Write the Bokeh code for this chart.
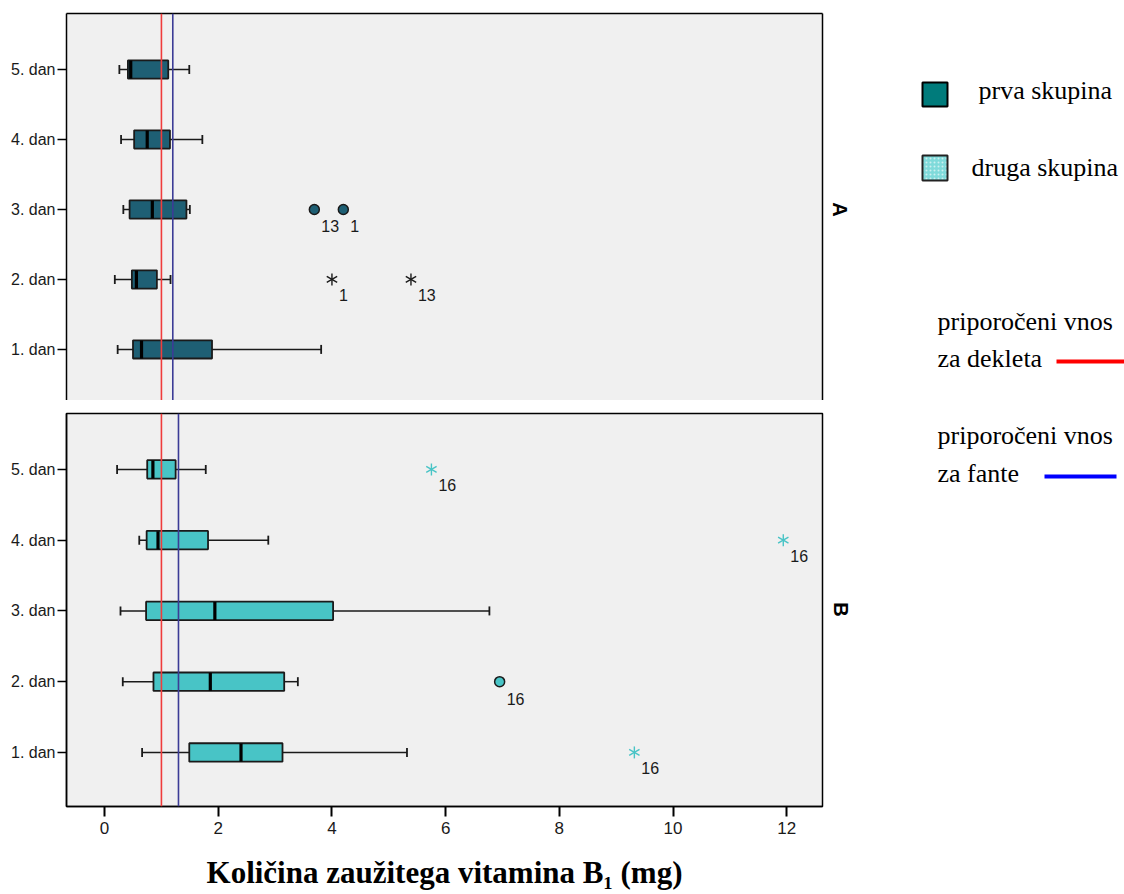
import math

from bokeh.core.properties import value
from bokeh.embed import file_html
from bokeh.layouts import column, row
from bokeh.models import ColumnDataSource, FixedTicker, LinearAxis, Range1d, Span
from bokeh.plotting import figure
from bokeh.resources import INLINE

# ---------------------------------------------------------------- data
days = ["1. dan", "2. dan", "3. dan", "4. dan", "5. dan"]
day_pos = [1, 2, 3, 4, 5]

# prva skupina (panel A): whisker ends, quartiles and medians per day
a_low = [0.23, 0.18, 0.33, 0.29, 0.26]
a_q1 = [0.50, 0.48, 0.44, 0.52, 0.41]
a_med = [0.65, 0.56, 0.84, 0.75, 0.46]
a_q3 = [1.89, 0.92, 1.44, 1.15, 1.12]
a_high = [3.81, 1.16, 1.50, 1.72, 1.49]
a_out_day = [3, 3]
a_out_val = [3.69, 4.20]
a_out_case = ["13", "1"]
a_ext_day = [2, 2]
a_ext_val = [4.00, 5.39]
a_ext_case = ["1", "13"]

# druga skupina (panel B)
b_low = [0.66, 0.32, 0.28, 0.61, 0.22]
b_q1 = [1.49, 0.86, 0.73, 0.74, 0.75]
b_med = [2.40, 1.86, 1.94, 0.94, 0.85]
b_q3 = [3.13, 3.16, 4.02, 1.82, 1.25]
b_high = [5.32, 3.40, 6.77, 2.88, 1.78]
b_out_day = [2]
b_out_val = [6.95]
b_out_case = ["16"]
b_ext_day = [1, 4, 5]
b_ext_val = [9.32, 11.94, 5.75]
b_ext_case = ["16", "16", "16"]

# recommended daily intake (mg)
rec_girls = 1.0
rec_boys_a = 1.2
rec_boys_b = 1.3

x_ticks = [0, 2, 4, 6, 8, 10, 12]

# ---------------------------------------------------------------- styles
SANS = "'Liberation Sans Narrow', 'Arial Narrow', 'Liberation Sans', sans-serif"
SERIF = "'Liberation Serif', 'Times New Roman', serif"
BG = "#f0f0f0"
COL_A = "#1e5f74"
COL_B = "#48c4c6"
RED = "#f03c3c"
NAVY = "#3c3c96"
X_RANGE = (-0.67, 12.63)


def bare_axis():
    return LinearAxis(
        ticker=FixedTicker(ticks=[]),
        major_label_text_font_size="0px",
        major_tick_out=0, major_tick_in=0,
        minor_tick_out=0, minor_tick_in=0,
        major_label_standoff=0,
        axis_line_color="black", axis_line_width=1.5,
    )


def style_y(p):
    ax = p.yaxis[0]
    ax.ticker = FixedTicker(ticks=day_pos)
    ax.major_label_overrides = dict(zip(day_pos, days))
    ax.major_label_text_font = SANS
    ax.major_label_text_font_size = "16px"
    ax.major_label_text_color = "#1a1a1a"
    ax.major_label_standoff = 2
    ax.major_tick_out = 9
    ax.major_tick_in = 0
    ax.major_tick_line_width = 1.5
    ax.minor_tick_out = 0
    ax.minor_tick_in = 0
    ax.axis_line_width = 1.5
    p.grid.visible = False


def asterisk(p, xs, ys, color):
    # six-armed asterisk built from three crossing strokes
    for ang in (math.pi / 2, math.pi / 6, -math.pi / 6):
        p.scatter(x=xs, y=ys, marker="dash", angle=ang, size=12,
                  line_color=color, line_width=1.4)


def draw_boxes(p, low, q1, med, q3, high, fill, out_day, out_val, out_case,
               ext_day, ext_val, ext_case, ext_color, rec_boys):
    src = ColumnDataSource(dict(y=day_pos, low=low, q1=q1, med=med, q3=q3, high=high))
    # whiskers and caps
    p.segment(x0="low", y0="y", x1="q1", y1="y", source=src, line_color="#1a1a1a", line_width=1.5)
    p.segment(x0="q3", y0="y", x1="high", y1="y", source=src, line_color="#1a1a1a", line_width=1.5)
    p.scatter(x="low", y="y", source=src, marker="dash", angle=math.pi / 2, size=9,
              line_color="#1a1a1a", line_width=1.8)
    p.scatter(x="high", y="y", source=src, marker="dash", angle=math.pi / 2, size=9,
              line_color="#1a1a1a", line_width=1.8)
    # boxes and medians
    p.hbar(y="y", left="q1", right="q3", height=0.26, source=src, fill_color=fill,
           line_color="#1a1a1a", line_width=1.8)
    p.scatter(x="med", y="y", source=src, marker="dash", angle=math.pi / 2, size=18,
              line_color="black", line_width=3.2)
    # reference intake lines
    p.add_layout(Span(location=rec_girls, dimension="height", line_color=RED, line_width=1.6))
    p.add_layout(Span(location=rec_boys, dimension="height", line_color=NAVY, line_width=1.6))
    # outliers (circles) and extremes (asterisks) with case numbers
    if out_val:
        p.scatter(x=out_val, y=out_day, marker="circle", size=10, fill_color=fill,
                  line_color="#1a1a1a", line_width=1.5)
        p.text(x=out_val, y=out_day, text=out_case, x_offset=7, y_offset=17,
               text_baseline="middle", text_font=value(SANS), text_font_size="16px",
               text_color="#1a1a1a")
    if ext_val:
        asterisk(p, ext_val, ext_day, ext_color)
        p.text(x=ext_val, y=ext_day, text=ext_case, x_offset=7, y_offset=16,
               text_baseline="middle", text_font=value(SANS), text_font_size="16px",
               text_color="#1a1a1a")


# ---------------------------------------------------------------- panel A
p_a = figure(width=828, height=400, output_backend="svg", toolbar_location=None,
             x_range=Range1d(*X_RANGE), y_range=Range1d(0.27, 5.8),
             min_border_left=66, min_border_right=6, min_border_top=13, min_border_bottom=0,
             x_axis_location=None, background_fill_color=BG, border_fill_color="white",
             outline_line_color=None)
style_y(p_a)
p_a.add_layout(bare_axis(), "above")
p_a.add_layout(bare_axis(), "right")
draw_boxes(p_a, a_low, a_q1, a_med, a_q3, a_high, COL_A,
           a_out_day, a_out_val, a_out_case, a_ext_day, a_ext_val, a_ext_case,
           "#1a1a1a", rec_boys_a)

# ---------------------------------------------------------------- panel B
p_b = figure(width=828, height=494, output_backend="svg", toolbar_location=None,
             x_range=Range1d(*X_RANGE), y_range=Range1d(0.236, 5.79),
             min_border_left=66, min_border_right=6, min_border_top=13, min_border_bottom=88,
             background_fill_color=BG, border_fill_color="white",
             outline_line_color="black", outline_line_width=1.5)
style_y(p_b)
xa = p_b.xaxis[0]
xa.ticker = FixedTicker(ticks=x_ticks)
xa.major_label_text_font = SANS
xa.major_label_text_font_size = "17px"
xa.major_label_text_color = "#1a1a1a"
xa.major_label_standoff = 5
xa.major_tick_out = 10
xa.major_tick_in = 0
xa.major_tick_line_width = 2
xa.minor_tick_out = 0
xa.minor_tick_in = 0
xa.axis_line_width = 1.5
xa.axis_label = "Količina zaužitega vitamina B₁ (mg)"
xa.axis_label_text_font = SERIF
xa.axis_label_text_font_style = "bold"
xa.axis_label_text_font_size = "31px"
xa.axis_label_text_color = "black"
xa.axis_label_standoff = 18
draw_boxes(p_b, b_low, b_q1, b_med, b_q3, b_high, COL_B,
           b_out_day, b_out_val, b_out_case, b_ext_day, b_ext_val, b_ext_case,
           COL_B, rec_boys_b)

# ---------------------------------------------------------------- legend side
p_leg = figure(width=296, height=894, output_backend="svg", toolbar_location=None,
               x_range=Range1d(828, 1124), y_range=Range1d(894, 0),
               min_border=0, x_axis_location=None, y_axis_location=None,
               outline_line_color=None, background_fill_color="white",
               border_fill_color="white")
p_leg.grid.visible = False

# panel letters
p_leg.text(x=[839, 840], y=[209, 609], text=["A", "B"], angle=-math.pi / 2,
           text_align="center", text_baseline="middle", text_font=value("Liberation Sans"),
           text_font_style="bold", text_font_size="20px", text_color="black")

# group swatches
p_leg.quad(left=[922], right=[947], top=[82], bottom=[106], fill_color="#007b7b",
           line_color="black", line_width=2)
p_leg.quad(left=[922], right=[947], top=[155], bottom=[180], fill_color="#7fdada",
           hatch_pattern="dot", hatch_color="white", hatch_alpha=0.6, hatch_scale=4,
           line_color="#222222", line_width=2)
p_leg.text(x=[978, 971], y=[90, 167], text=["prva skupina", "druga skupina"],
           text_baseline="middle", text_font=value(SERIF), text_font_size="26px",
           text_color="black")

# recommended intake lines
p_leg.text(x=[937, 937, 937, 937], y=[321, 358, 435, 473],
           text=["priporočeni vnos", "za dekleta", "priporočeni vnos", "za fante"],
           text_baseline="middle", text_font=value(SERIF), text_font_size="26px",
           text_color="black")
p_leg.segment(x0=[1056], y0=[361], x1=[1124], y1=[361], line_color="#ff0000", line_width=4)
p_leg.segment(x0=[1044], y0=[476], x1=[1116], y1=[476], line_color="#0000ff", line_width=4)

layout = row(column(p_a, p_b), p_leg)

open("out.html", "w").write(file_html(layout, INLINE))
